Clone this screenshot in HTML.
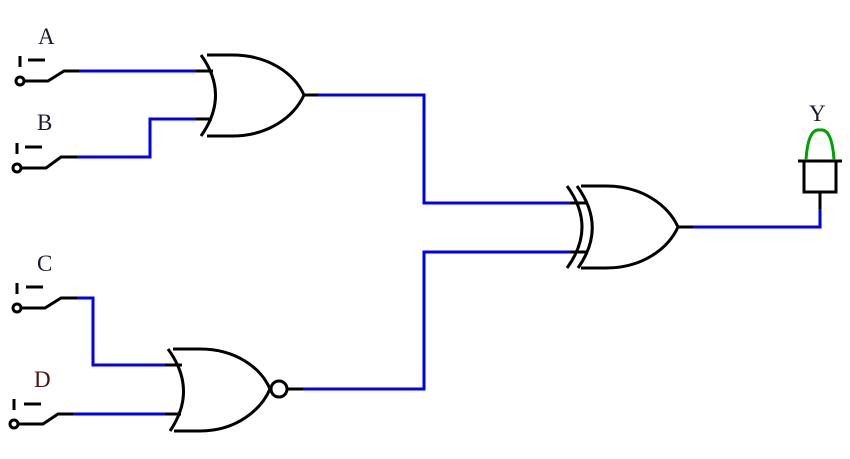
<!DOCTYPE html>
<html><head><style>body{margin:0;background:#fff}svg{display:block}text{font-family:"Liberation Serif",serif;font-size:23px}</style></head><body>
<svg width="850" height="459" viewBox="0 0 850 459" fill="none" stroke-width="3" stroke-linejoin="miter">
<g stroke="#0000ee">
<path d="M79 71H196"/>
<path d="M77 157H150V119H196"/>
<path d="M77 298H93V365H165"/>
<path d="M73 414H165"/>
<path d="M318 95H424V203H570"/>
<path d="M303 389H424V252H570"/>
<path d="M693 227H820V209"/>
</g>
<g stroke="#000">
<circle cx="20" cy="81" r="4"/><path d="M24 81H48L64 71H79M20 56V67M28 60H45M196 71H213M196 119H212"/>
<circle cx="17" cy="168" r="4"/><path d="M21 168H46L61 157H77M17 143V154M25 147H42"/>
<circle cx="17" cy="308" r="4"/><path d="M21 308H45L61 298H77M17 283V294M26 287H43"/>
<circle cx="14" cy="424" r="4"/><path d="M18 424H43L58 414H73M14 399V410M24 404H41"/>
<path d="M165 365H182M165 414H181"/>
<path d="M201 55Q230 95 201 136M207 55H232C268 55 294 73 304 95C294 117 268 136 232 136H207M304 95H318"/>
<path d="M168 349Q198 390 170 431M173 349H200C236 349 261 368 270 389C261 410 236 431 200 431H174"/>
<circle cx="279" cy="389" r="8"/><path d="M287 389H303"/>
<path d="M567 186Q597 227 567 268M577 186Q607 227 578 268M581 186H606C642 186 668 205 678 227C668 249 642 268 606 268H581M570 203H586M570 252H586M678 227H693"/>
<path d="M820 209V192M804 161H836V192H804ZM798 161H842"/>
</g>
<path d="M806 160Q808 128 820 130Q832 128 834 160" stroke="#00a000"/>
<text x="38" y="44" fill="#1a1a2a">A</text>
<text x="37" y="130" fill="#1a1a2a">B</text>
<text x="37" y="271" fill="#1a1a2a">C</text>
<text x="34" y="387" fill="#4a1010">D</text>
<text x="809" y="121" fill="#1a1a2a">Y</text>
</svg>
</body></html>
